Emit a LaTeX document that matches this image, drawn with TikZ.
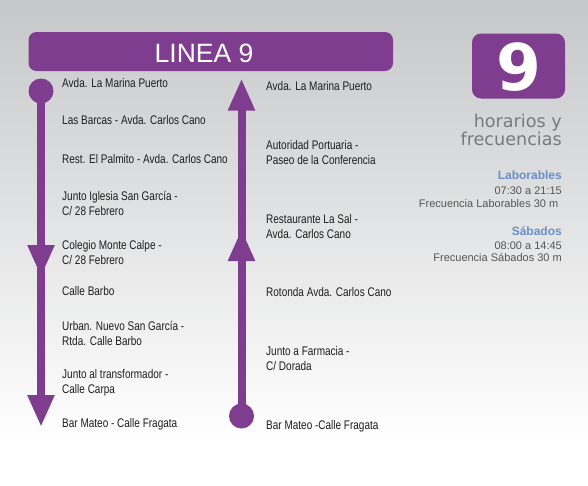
\documentclass[tikz,border=0pt]{standalone}
\usepackage{fontspec}
\usetikzlibrary{arrows.meta}
\newfontfamily\condfont[FakeStretch=0.8]{Liberation Sans}
\newfontfamily\arialfont{Liberation Sans}
\newfontfamily\verdfont{DejaVu Sans}
\definecolor{purple9}{HTML}{7E3D8E}
\definecolor{bluehead}{HTML}{6A8FC9}
\definecolor{grayhead}{HTML}{7A7A7A}
\definecolor{smallgray}{HTML}{555555}
\definecolor{stationtext}{HTML}{1E1E1E}
\definecolor{bgtop}{HTML}{C6C7C9}
\tikzset{
  station/.style={anchor=west, inner sep=0pt, align=left, text=stationtext,
    font=\condfont\fontsize{12.5}{15}\selectfont},
  route/.style={draw=purple9, line width=8pt},
  stopdot/.style={circle, fill=purple9, minimum size=25pt, inner sep=0pt},
  headtip/.style={-{Triangle[width=25pt,length=32pt]}},
  infohead/.style={anchor=base east, inner sep=0pt, text=bluehead,
    font=\arialfont\bfseries\fontsize{12}{14}\selectfont},
  infotext/.style={anchor=base east, inner sep=0pt, text=smallgray,
    font=\arialfont\fontsize{11}{13}\selectfont},
  bigtext/.style={anchor=base east, inner sep=0pt, text=grayhead,
    font=\verdfont\fontsize{17.6}{19}\selectfont}
}
\begin{document}
\begin{tikzpicture}[x=1pt,y=-1pt]
\useasboundingbox (0,0) rectangle (588,485);
% background
\shade[top color=bgtop, bottom color=white] (0,0) rectangle (588,442);
\fill[white] (0,442) rectangle (588,485);
% title bar
\fill[purple9, rounded corners=8pt] (28.5,32) rectangle (393,71);
\node[anchor=base, inner sep=0pt, text=white,
  font=\arialfont\fontsize{26.5}{30}\selectfont] (title) at (204,62.3) {LINEA 9};
% number box
\fill[purple9, rounded corners=9pt] (472,33.5) rectangle (565,98.5);
\node[anchor=base, inner sep=0pt, text=white,
  font=\verdfont\bfseries\fontsize{64.5}{70}\selectfont] (num) at (519,90) {9};
% info
\node[bigtext] (hor1) at (562,127.3) {horarios y};
\node[bigtext] (hor2) at (562,145.3) {frecuencias};
\node[infohead] (lab) at (562,179.3) {Laborables};
\node[infotext] (lab1) at (562,194) {07:30 a 21:15};
\node[infotext] (lab2) at (558.5,207.3) {Frecuencia Laborables 30 m};
\node[infohead] (sab) at (562,235) {Sábados};
\node[infotext] (sab1) at (562,249) {08:00 a 14:45};
\node[infotext] (sab2) at (562,261.7) {Frecuencia Sábados 30 m};
% left route
\node[stopdot] (l0) at (41,91) {};
\coordinate (l1) at (41,277);
\coordinate (l1b) at (41,268);
\coordinate (l2) at (41,427);
\draw[route, headtip] (l0.center) -- (l1);
\draw[route, headtip] (l1b) -- (l2);
% right route
\node[stopdot] (r0) at (241.5,416) {};
\coordinate (r1) at (241.5,229);
\coordinate (r1b) at (241.5,240);
\coordinate (r2) at (241.5,78.5);
\draw[route, headtip] (r0.center) -- (r1);
\draw[route, headtip] (r1b) -- (r2);
% left stations
\node[station] (a1) at (62,83.5) {Avda. La Marina Puerto};
\node[station] (a2) at (62,120) {Las Barcas - Avda. Carlos Cano};
\node[station] (a3) at (62,159.3) {Rest. El Palmito - Avda. Carlos Cano};
\node[station] (a4) at (62,203.3) {Junto Iglesia San García -\\C/ 28 Febrero};
\node[station] (a5) at (62,252.5) {Colegio Monte Calpe -\\C/ 28 Febrero};
\node[station] (a6) at (62,291) {Calle Barbo};
\node[station] (a7) at (62,333.2) {Urban. Nuevo San García -\\Rtda. Calle Barbo};
\node[station] (a8) at (62,382.8) {Junto al transformador -\\Calle Carpa};
\node[station] (a9) at (62,424.5) {Bar Mateo - Calle Fragata};
% right stations
\node[station] (b1) at (266,86) {Avda. La Marina Puerto};
\node[station] (b2) at (266,153) {Autoridad Portuaria -\\Paseo de la Conferencia};
\node[station] (b3) at (266,226.7) {Restaurante La Sal -\\Avda. Carlos Cano};
\node[station] (b4) at (266,292.3) {Rotonda Avda. Carlos Cano};
\node[station] (b5) at (266,358.8) {Junto a Farmacia -\\C/ Dorada};
\node[station] (b6) at (266,426.2) {Bar Mateo -Calle Fragata};
\end{tikzpicture}
\end{document}
